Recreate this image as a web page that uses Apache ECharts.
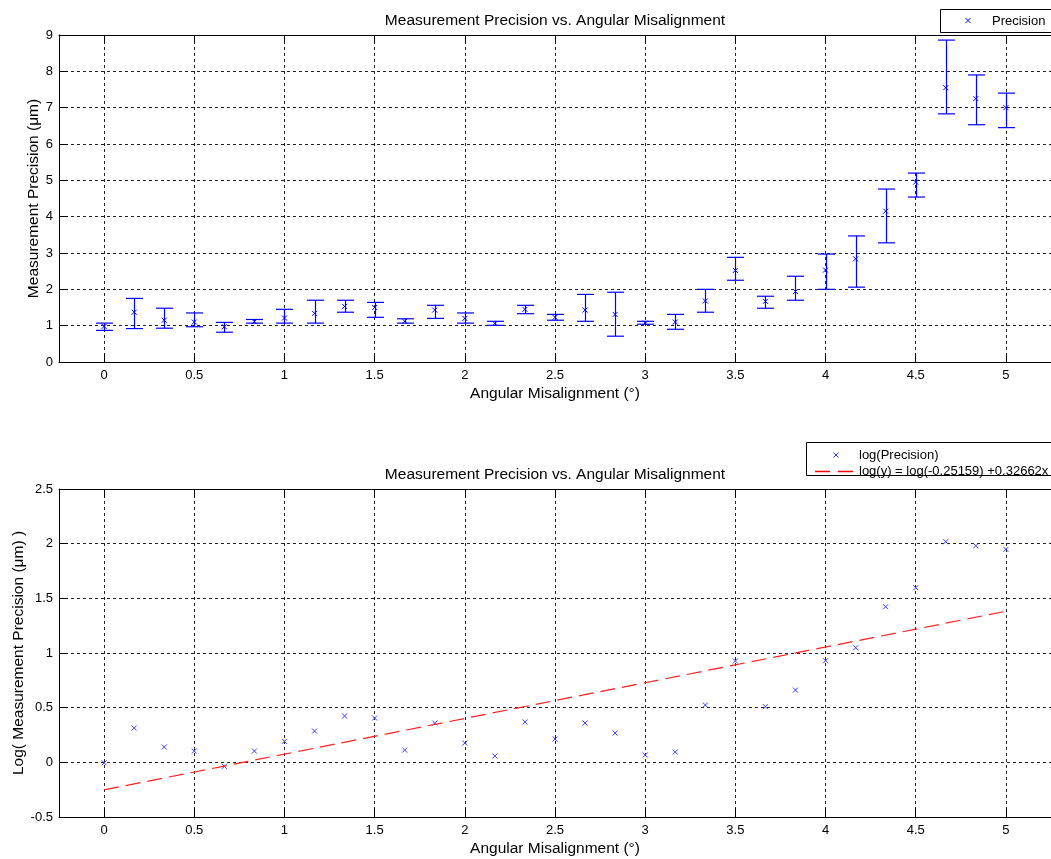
<!DOCTYPE html>
<html>
<head>
<meta charset="utf-8">
<script src="https://cdn.jsdelivr.net/npm/echarts@6/dist/echarts.min.js"></script>
<style>
  html, body { margin: 0; padding: 0; background: #fff; }
  #chart { width: 1051px; height: 859px; }
</style>
</head>
<body>
<div id="chart"></div>
<script>
// Angular misalignment of each measurement (degrees)
const angles = [0, 0.1667, 0.3333, 0.5, 0.6667, 0.8333, 1, 1.1667, 1.3333, 1.5,
  1.6667, 1.8333, 2, 2.1667, 2.3333, 2.5, 2.6667, 2.8333, 3, 3.1667,
  3.3333, 3.5, 3.6667, 3.8333, 4, 4.1667, 4.3333, 4.5, 4.6667, 4.8333, 5];

// Measurement precision (µm) with its error-bar bounds
const precision = [0.98, 1.37, 1.15, 1.10, 0.97, 1.11, 1.21, 1.34, 1.53, 1.50,
  1.12, 1.43, 1.20, 1.06, 1.45, 1.23, 1.43, 1.31, 1.07, 1.10,
  1.68, 2.52, 1.67, 1.94, 2.53, 2.84, 4.15, 4.95, 7.55, 7.25, 7.00];
const precisionLow = [0.87, 0.92, 0.93, 0.97, 0.82, 1.07, 1.07, 1.07, 1.37, 1.23,
  1.07, 1.20, 1.07, 1.01, 1.33, 1.15, 1.12, 0.71, 1.04, 0.90,
  1.37, 2.25, 1.48, 1.70, 2.00, 2.06, 3.28, 4.54, 6.83, 6.53, 6.45];
const precisionHigh = [1.07, 1.75, 1.48, 1.35, 1.09, 1.17, 1.45, 1.70, 1.70, 1.64,
  1.19, 1.56, 1.35, 1.12, 1.56, 1.31, 1.86, 1.92, 1.12, 1.31,
  2.00, 2.88, 1.81, 2.36, 2.97, 3.47, 4.76, 5.20, 8.86, 7.90, 7.40];

// Natural log of the precision
const logPrecision = [-0.004, 0.314, 0.140, 0.103, -0.037, 0.103, 0.192, 0.286, 0.423, 0.405,
  0.112, 0.359, 0.176, 0.058, 0.369, 0.213, 0.359, 0.268, 0.067, 0.094,
  0.524, 0.927, 0.509, 0.661, 0.929, 1.048, 1.423, 1.597, 2.018, 1.981, 1.948];

// Linear fit of log(precision): log(y) = intercept + slope * x
const fitIntercept = -0.25159;
const fitSlope = 0.32662;
const fitRange = [0, 5];

// Axis ticks
const xTicks = [0, 0.5, 1, 1.5, 2, 2.5, 3, 3.5, 4, 4.5, 5];

const FONT = 'Liberation Sans, Arial, Helvetica, sans-serif';
const BLUE = '#0000ff';
const LIGHT_BLUE = '#3a3aff';
const RED = '#ff2020';
const TITLE = 'Measurement Precision vs. Angular Misalignment';
const BIG = 15.5;

const chart = echarts.init(document.getElementById('chart'), null, { renderer: 'canvas' });

const gridLine = { show: true, lineStyle: { color: '#222', width: 1, type: [3, 3] } };
const axisLine = { show: true, onZero: false, lineStyle: { color: '#000', width: 1 } };
const tickIn = { show: true, inside: true, length: 9, lineStyle: { color: '#000' } };

function bottomX(gridIndex) {
  return {
    type: 'value', gridIndex, min: -0.25, max: 5.25, position: 'bottom',
    axisLine, splitLine: gridLine,
    axisTick: Object.assign({ customValues: xTicks }, tickIn),
    axisLabel: { customValues: xTicks, color: '#000', fontFamily: FONT, fontSize: 13, margin: 7 },
    name: 'Angular Misalignment (°)', nameLocation: 'middle', nameGap: 24, nameMoveOverlap: false,
    nameTextStyle: { color: '#000', fontFamily: FONT, fontSize: BIG }
  };
}
function topX(gridIndex) {
  return {
    type: 'value', gridIndex, min: -0.25, max: 5.25, position: 'top',
    axisLine, splitLine: { show: false },
    axisTick: Object.assign({ customValues: xTicks }, tickIn),
    axisLabel: { show: false }
  };
}

// Error-bar glyph: vertical stem with caps
function renderErrorBar(params, api) {
  const x = api.value(0);
  const lo = api.coord([x, api.value(1)]);
  const hi = api.coord([x, api.value(2)]);
  const cx = Math.round(lo[0]) + 0.5;
  const w = 8.5;
  const s = { stroke: BLUE, lineWidth: 1.2 };
  return {
    type: 'group',
    children: [
      { type: 'line', shape: { x1: cx, y1: hi[1], x2: cx, y2: lo[1] }, style: s },
      { type: 'line', shape: { x1: cx - w, y1: hi[1], x2: cx + w, y2: hi[1] }, style: s },
      { type: 'line', shape: { x1: cx - w, y1: lo[1], x2: cx + w, y2: lo[1] }, style: s }
    ]
  };
}

// Cross marker
function crossMarker(color, r) {
  return function (params, api) {
    const p = api.coord([api.value(0), api.value(1)]);
    const s = { stroke: color, lineWidth: 1 };
    return {
      type: 'group',
      children: [
        { type: 'line', shape: { x1: p[0] - r, y1: p[1] - r, x2: p[0] + r, y2: p[1] + r }, style: s },
        { type: 'line', shape: { x1: p[0] - r, y1: p[1] + r, x2: p[0] + r, y2: p[1] - r }, style: s }
      ]
    };
  };
}

// Cross drawn as two standalone graphic lines (legend swatch)
function crossLines(cx, cy, r, color) {
  const s = { stroke: color, lineWidth: 1 };
  return [
    { type: 'line', z: 101, shape: { x1: cx - r, y1: cy - r, x2: cx + r, y2: cy + r }, style: s },
    { type: 'line', z: 101, shape: { x1: cx - r, y1: cy + r, x2: cx + r, y2: cy - r }, style: s }
  ];
}

const errorData = angles.map((a, i) => [a, precisionLow[i], precisionHigh[i]]);
const meanData = angles.map((a, i) => [a, precision[i]]);
const logData = angles.map((a, i) => [a, logPrecision[i]]);
const fitData = fitRange.map(x => [x, fitIntercept + fitSlope * x]);

const option = {
  backgroundColor: '#fff',
  animation: false,
  title: [
    { text: TITLE, left: 555, top: 13, textAlign: 'center', padding: 0,
      textStyle: { color: '#000', fontFamily: FONT, fontSize: BIG, fontWeight: 'normal' } },
    { text: TITLE, left: 555, top: 467, textAlign: 'center', padding: 0,
      textStyle: { color: '#000', fontFamily: FONT, fontSize: BIG, fontWeight: 'normal' } }
  ],
  grid: [
    { left: 59, top: 35, width: 992, height: 327, show: false, outerBoundsMode: 'none', containLabel: false },
    { left: 59, top: 489, width: 992, height: 328, show: false, outerBoundsMode: 'none', containLabel: false }
  ],
  xAxis: [bottomX(0), topX(0), bottomX(1), topX(1)],
  yAxis: [
    {
      type: 'value', gridIndex: 0, min: 0, max: 9, interval: 1,
      axisLine, axisTick: tickIn, splitLine: gridLine,
      axisLabel: { color: '#000', fontFamily: FONT, fontSize: 13, margin: 6 },
      name: 'Measurement Precision (μm)', nameLocation: 'middle', nameGap: 17, nameRotate: 90,
      nameMoveOverlap: false,
      nameTextStyle: { color: '#000', fontFamily: FONT, fontSize: BIG }
    },
    {
      type: 'value', gridIndex: 1, min: -0.5, max: 2.5, interval: 0.5,
      axisLine, axisTick: tickIn, splitLine: gridLine,
      axisLabel: { color: '#000', fontFamily: FONT, fontSize: 13, margin: 6 },
      name: 'Log( Measurement Precision (μm) )', nameLocation: 'middle', nameGap: 32, nameRotate: 90,
      nameMoveOverlap: false,
      nameTextStyle: { color: '#000', fontFamily: FONT, fontSize: BIG }
    }
  ],
  series: [
    { name: 'Precision error', type: 'custom', xAxisIndex: 0, yAxisIndex: 0,
      renderItem: renderErrorBar, data: errorData, encode: { x: 0, y: [1, 2] }, silent: true },
    { name: 'Precision', type: 'custom', xAxisIndex: 0, yAxisIndex: 0,
      renderItem: crossMarker(BLUE, 2.5), data: meanData, encode: { x: 0, y: 1 }, silent: true },
    { name: 'log(Precision)', type: 'custom', xAxisIndex: 2, yAxisIndex: 1,
      renderItem: crossMarker(LIGHT_BLUE, 2.5), data: logData, encode: { x: 0, y: 1 }, silent: true },
    { name: 'fit', type: 'line', xAxisIndex: 2, yAxisIndex: 1, data: fitData,
      showSymbol: false, symbol: 'none', silent: true,
      lineStyle: { color: RED, width: 1.2, type: [15, 7] } }
  ],
  graphic: [
    // legend of the upper plot
    { type: 'rect', z: 100, shape: { x: 940.5, y: 9.5, width: 130, height: 23 },
      style: { fill: '#fff', stroke: '#000', lineWidth: 1 } },
    ...crossLines(968, 20.5, 2.5, BLUE),
    { type: 'text', x: 992, y: 21, z: 101,
      style: { text: 'Precision', fill: '#000', font: '13px ' + FONT, textVerticalAlign: 'middle' } },
    // legend of the lower plot
    { type: 'rect', z: 100, shape: { x: 806.5, y: 442.5, width: 250, height: 33 },
      style: { fill: '#fff', stroke: '#000', lineWidth: 1 } },
    ...crossLines(836, 455, 2.5, LIGHT_BLUE),
    { type: 'text', x: 859, y: 455, z: 101,
      style: { text: 'log(Precision)', fill: '#000', font: '13px ' + FONT, textVerticalAlign: 'middle' } },
    { type: 'line', z: 102, shape: { x1: 815, y1: 471.5, x2: 853, y2: 471.5 },
      style: { stroke: '#ff0000', lineWidth: 1.5, lineDash: [15, 8] } },
    { type: 'text', x: 859, y: 471, z: 101,
      style: { text: 'log(y) = log(-0.25159) +0.32662x', fill: '#000', font: '13px ' + FONT, textVerticalAlign: 'middle' } }
  ]
};

chart.setOption(option);
</script>
</body>
</html>
